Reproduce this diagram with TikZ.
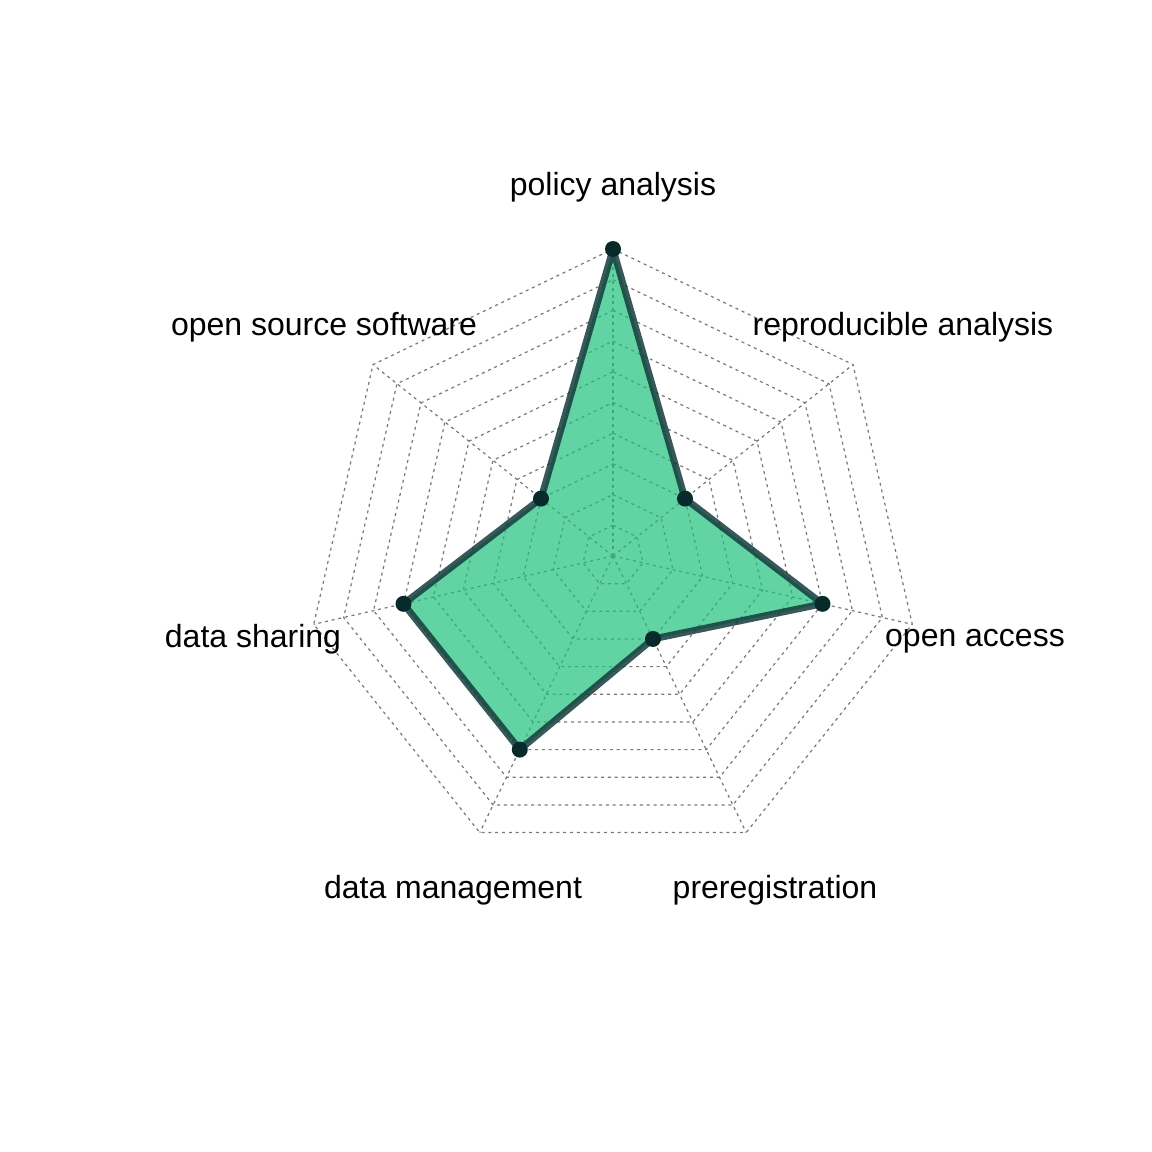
\documentclass[tikz,border=0pt]{standalone}
\usepackage{fontspec}
\setmainfont{Liberation Sans}
\definecolor{fillc}{RGB}{32,192,124}
\definecolor{linec}{RGB}{20,60,60}
\definecolor{dotc}{RGB}{8,42,42}
\definecolor{gridc}{RGB}{120,120,120}
\begin{document}
\begin{tikzpicture}[x=0.5pt,y=-0.5pt,
  gridline/.style={gridc,line width=0.6pt,dash pattern=on 1.5pt off 1.9pt},
  lbl/.style={font=\fontsize{16}{19}\selectfont,inner sep=0pt,anchor=base},
  datapt/.style={circle,fill=dotc,inner sep=0pt,minimum size=8pt}]
\useasboundingbox (0,0) rectangle (1152,1152);
\begin{scope}[shift={(613,556)},yscale=-1]
  % grid rings
  \foreach \k in {1,...,10}{
    \draw[gridline] (90:{30.7*\k}) \foreach \i in {1,...,6}{ -- ({90-\i*360/7}:{30.7*\k}) } -- cycle;
  }
  % radial axes
  \foreach \i in {0,...,6}{
    \draw[gridline] (0,0) -- ({90-\i*360/7}:307);
  }
  % data points
  \coordinate (p0) at (90:307);
  \coordinate (p1) at ({90-1*360/7}:{0.3*307});
  \coordinate (p2) at ({90-2*360/7}:{0.7*307});
  \coordinate (p3) at ({90-3*360/7}:{0.3*307});
  \coordinate (p4) at ({90-4*360/7}:{0.7*307});
  \coordinate (p5) at ({90-5*360/7}:{0.7*307});
  \coordinate (p6) at ({90-6*360/7}:{0.3*307});
  \fill[fillc,opacity=0.7] (p0) -- (p1) -- (p2) -- (p3) -- (p4) -- (p5) -- (p6) -- cycle;
  \draw[linec,opacity=0.85,line width=3.4pt,line join=round] (p0) -- (p1) -- (p2) -- (p3) -- (p4) -- (p5) -- (p6) -- cycle;
  \foreach \i in {0,...,6}{ \node[datapt] (d\i) at (p\i) {}; }
\end{scope}
% labels
\node[lbl] (lpolicy) at (613,195) {policy analysis};
\node[lbl] (lrepro) at (903,335) {reproducible analysis};
\node[lbl] (lopen) at (975,646) {open access};
\node[lbl] (lprereg) at (775,898) {preregistration};
\node[lbl] (lmanage) at (453,898) {data management};
\node[lbl] (lshare) at (253,647) {data sharing};
\node[lbl] (loss) at (324,335) {open source software};
\end{tikzpicture}
\end{document}
